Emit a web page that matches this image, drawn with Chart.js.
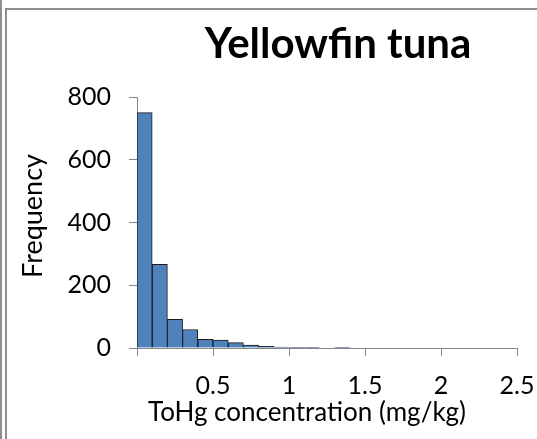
<!DOCTYPE html>
<html>
<head>
<meta charset="utf-8">
<script src="https://cdn.jsdelivr.net/npm/chart.js@4/dist/chart.umd.min.js"></script>
<style>
    html, body { margin: 0; padding: 0; background: #fff; }
    #frame { position: relative; width: 537px; height: 439px; overflow: hidden; }
    #outerLine { position: absolute; left: 0; top: 0; width: 2px; height: 439px; background: #8e8e8e; }
    #innerLine { position: absolute; left: 5px; top: 8px; width: 540px; height: 440px;
                 border-left: 2px solid #8e8e8e; border-top: 2px solid #8e8e8e; }
    canvas { position: absolute; left: 0; top: 0; }
</style>
</head>
<body>
<div id="frame">
    <div id="outerLine"></div>
    <div id="innerLine"></div>
    <canvas id="histChart" width="537" height="439"></canvas>
</div>
<script>
// Histogram bins (centre of each 0.1 mg/kg bin) and counts
const binCenters = [0.05, 0.15, 0.25, 0.35, 0.45, 0.55, 0.65, 0.75, 0.85, 0.95, 1.05, 1.15, 1.25, 1.35];
const frequencies = [750, 267, 91, 59, 28, 25, 17, 9, 5, 3, 2, 2, 0, 2];

// Axis ticks
const xTicks = [0, 0.5, 1, 1.5, 2, 2.5];
const yTicks = [0, 200, 400, 600, 800];

const chartTitle = 'Yellowfin tuna';
const xTitle = 'ToHg concentration (mg/kg)';
const yTitle = 'Frequency';

const fontFamily = 'Lato, "Open Sans", sans-serif';
const axisGray = '#868686';

// Draw chart title and axis titles
const titlesPlugin = {
    id: 'titles',
    afterDraw(chart) {
        const ctx = chart.ctx;
        ctx.save();
        ctx.fillStyle = '#000';
        ctx.textAlign = 'center';
        ctx.textBaseline = 'middle';

        ctx.font = 'bold 42px ' + fontFamily;
        ctx.fillText(chartTitle, 338, 44);

        ctx.font = '26px ' + fontFamily;
        ctx.fillText(xTitle, 307, 413);

        ctx.font = '27px ' + fontFamily;
        ctx.translate(33, 216);
        ctx.rotate(-Math.PI / 2);
        ctx.fillText(yTitle, 0, 0);
        ctx.restore();
    }
};

const ctx = document.getElementById('histChart').getContext('2d');
const histChart = new Chart(ctx, {
    type: 'bar',
    data: {
        datasets: [{
            label: 'Frequency',
            data: binCenters.map((x, i) => ({ x: x, y: frequencies[i] })),
            backgroundColor: '#4F81BD',
            borderColor: '#1b1b1b',
            borderWidth: 1,
            barPercentage: 1,
            categoryPercentage: 1
        }]
    },
    options: {
        responsive: false,
        animation: false,
        layout: {
            padding: { left: 0, right: 20, top: 97, bottom: 0 }
        },
        plugins: {
            legend: { display: false },
            tooltip: { enabled: false },
            title: { display: false }
        },
        scales: {
            x: {
                type: 'linear',
                offset: false,
                min: xTicks[0],
                max: xTicks[xTicks.length - 1],
                afterBuildTicks: scale => {
                    scale.ticks = xTicks.map(v => ({ value: v }));
                },
                afterFit: scale => {
                    scale.height = 91;
                    scale.paddingLeft = 0;
                    scale.paddingRight = 0;
                },
                ticks: {
                    color: '#000',
                    padding: 15,
                    maxRotation: 0,
                    font: { family: fontFamily, size: 25 },
                    callback: value => value === 0 ? '' : value
                },
                grid: {
                    drawOnChartArea: false,
                    drawTicks: true,
                    tickLength: 8,
                    color: axisGray,
                    offset: false
                },
                border: { color: axisGray, width: 1 }
            },
            y: {
                min: yTicks[0],
                max: yTicks[yTicks.length - 1],
                afterBuildTicks: scale => {
                    scale.ticks = yTicks.map(v => ({ value: v }));
                },
                afterFit: scale => { scale.width = 137; },
                ticks: {
                    color: '#000',
                    padding: 18,
                    font: { family: fontFamily, size: 25 }
                },
                grid: {
                    drawOnChartArea: false,
                    drawTicks: true,
                    tickLength: 8,
                    color: axisGray
                },
                border: { color: axisGray, width: 1 }
            }
        }
    },
    plugins: [titlesPlugin]
});
</script>
</body>
</html>
